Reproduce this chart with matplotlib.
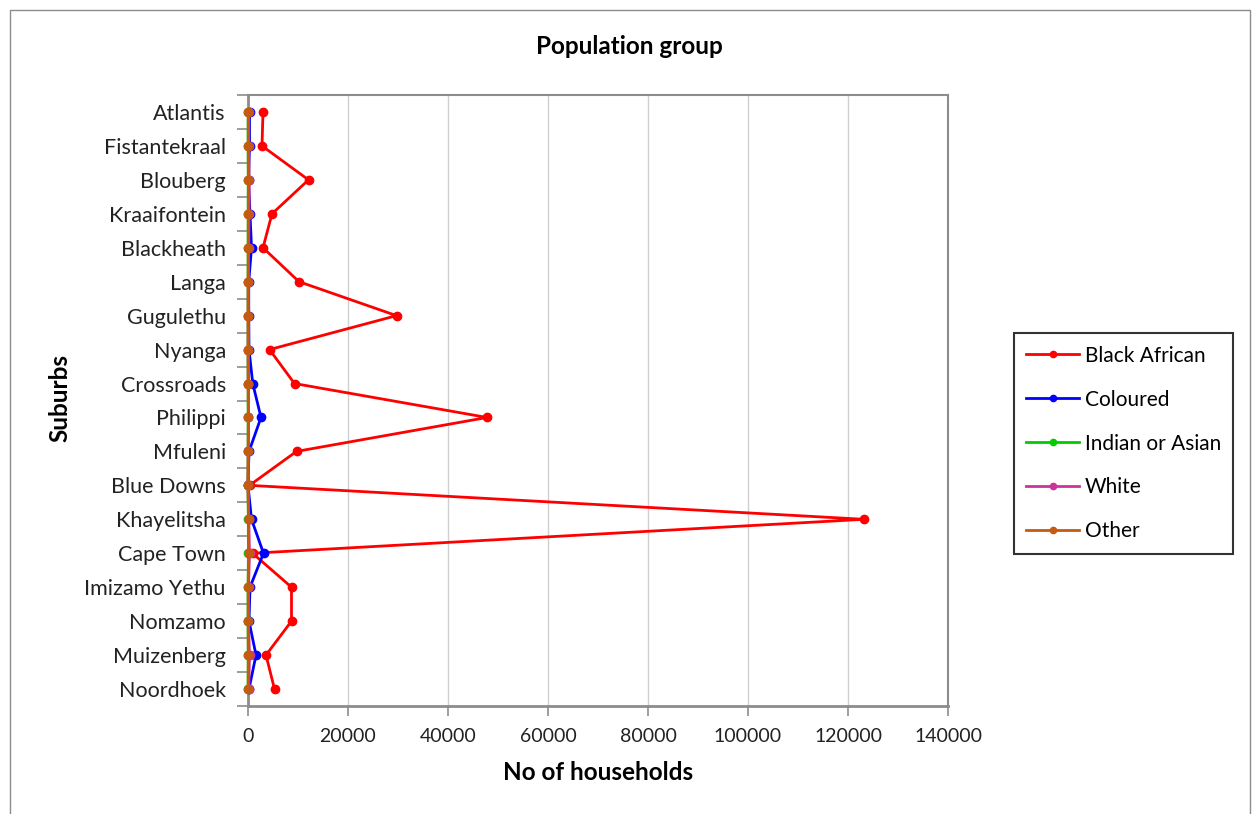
import matplotlib
matplotlib.use("Agg")
import matplotlib.pyplot as plt
from matplotlib.patches import Rectangle
from matplotlib.ticker import FixedLocator

suburbs = ["Atlantis", "Fistantekraal", "Blouberg", "Kraaifontein", "Blackheath",
           "Langa", "Gugulethu", "Nyanga", "Crossroads", "Philippi", "Mfuleni",
           "Blue Downs", "Khayelitsha", "Cape Town", "Imizamo Yethu", "Nomzamo",
           "Muizenberg", "Noordhoek"]

black_african = [3000, 2800, 12100, 4800, 3000, 10200, 29700, 4300, 9300, 47800,
                 9700, 300, 123200, 900, 8700, 8700, 3600, 5300]
coloured = [300, 300, 100, 400, 700, 150, 150, 200, 950, 2600,
            200, 0, 700, 3100, 400, 200, 1600, 200]
indian_asian = [20, 20, 40, 30, 20, 10, 10, 10, 20, 30,
                20, 0, 60, 80, 10, 10, 40, 10]
white = [150, 100, 250, 200, 150, 50, 40, 30, 60, 80,
         50, 0, 150, 300, 100, 80, 300, 150]
other = [60, 50, 80, 60, 50, 30, 30, 30, 40, 60,
         40, 0, 100, 120, 40, 30, 60, 40]

series = [
    ("Black African", black_african, "#FF0000"),
    ("Coloured", coloured, "#0000FF"),
    ("Indian or Asian", indian_asian, "#00CC00"),
    ("White", white, "#CC3399"),
    ("Other", other, "#C55A11"),
]

x_ticks = [0, 20000, 40000, 60000, 80000, 100000, 120000, 140000]

plt.rcParams["font.family"] = ["Lato", "DejaVu Sans"]

W, H = 1255, 814
fig = plt.figure(figsize=(W / 100, H / 100), dpi=100)

# outer chart frame
fig.patches.append(Rectangle((10 / W, -0.01), 1240 / W, (H - 10) / H + 0.01,
                             transform=fig.transFigure, fill=False,
                             edgecolor="#8C8C8C", linewidth=1.0))

left, right, top, bottom = 248, 948, 95, 706
ax = fig.add_axes([left / W, 1 - bottom / H, (right - left) / W, (bottom - top) / H])

ypos = list(range(len(suburbs)))
for name, vals, col in series:
    ax.plot(vals, ypos, color=col, linewidth=2.0, marker="o", markersize=6,
            label=name, zorder=3, clip_on=False)

ax.set_xlim(0, 140000)
ax.set_ylim(len(suburbs) - 0.5, -0.5)

ax.set_xticks(x_ticks)
ax.set_xticklabels([str(v) for v in x_ticks])
ax.set_yticks(ypos)
ax.set_yticklabels(suburbs)
ax.yaxis.set_minor_locator(FixedLocator([i - 0.5 for i in range(len(suburbs) + 1)]))

ax.tick_params(axis="y", which="major", length=0, pad=16, labelsize=15.5, colors="#222222")
ax.tick_params(axis="y", which="minor", length=8, width=1.2, color="#8C8C8C", direction="out")
ax.tick_params(axis="x", which="major", length=7, width=1.2, color="#8C8C8C",
               pad=9, labelsize=14, labelcolor="#222222")

ax.grid(axis="x", color="#D0D0D0", linewidth=1.0, zorder=0)
ax.set_axisbelow(True)

for side in ["left", "bottom"]:
    ax.spines[side].set_color("#8C8C8C")
    ax.spines[side].set_linewidth(2.0)
for side in ["top", "right"]:
    ax.spines[side].set_color("#8C8C8C")
    ax.spines[side].set_linewidth(1.5)

fig.text(629 / W, 1 - 47 / H, "Population group", ha="center", va="center",
         fontsize=17.5, fontweight="bold")
fig.text(598 / W, 1 - 773 / H, "No of households", ha="center", va="center",
         fontsize=17.5, fontweight="bold")
fig.text(60 / W, 1 - 398 / H, "Suburbs", ha="center", va="center",
         fontsize=17.5, fontweight="bold", rotation=90)

leg = fig.legend(loc="center", bbox_to_anchor=(1123.5 / W, 1 - 443.5 / H),
                 frameon=True, fancybox=False, fontsize=15, labelspacing=1.15,
                 handlelength=2.55, handletextpad=0.25, borderpad=0.6,
                 markerscale=0.75)
leg.get_frame().set_edgecolor("black")
leg.get_frame().set_linewidth(1.5)

fig.savefig("out.png", dpi=100)
